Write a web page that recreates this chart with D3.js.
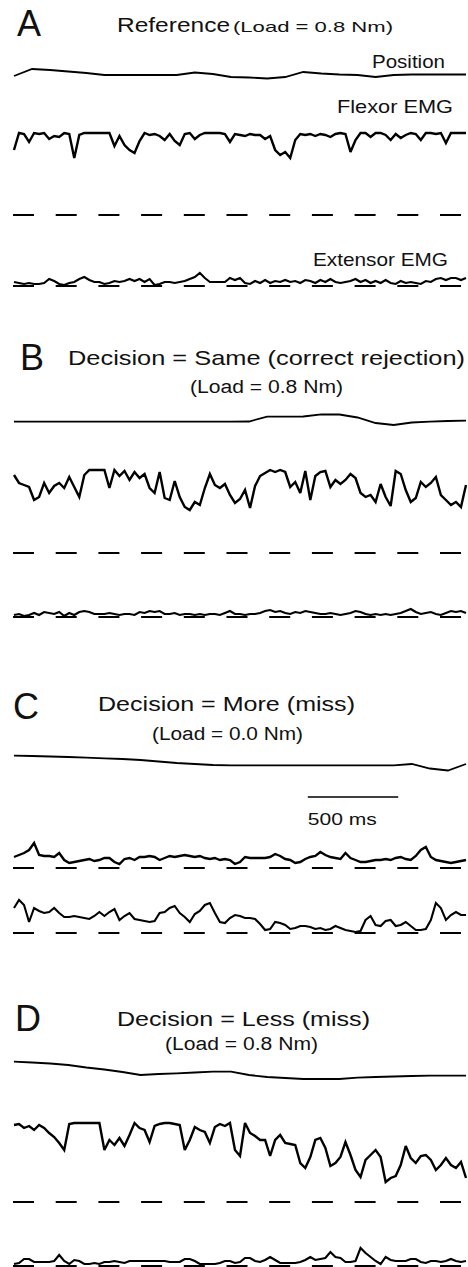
<!DOCTYPE html>
<html>
<head>
<meta charset="utf-8">
<script src="https://cdn.jsdelivr.net/npm/d3@7"></script>
<style>
  body { margin: 0; background: #fff; }
  svg { display: block; background: #fff; }
  .trace { fill: none; stroke: #000; stroke-linejoin: miter; stroke-miterlimit: 3; stroke-linecap: butt; }
  .baseline { stroke: #000; stroke-width: 2.2; stroke-dasharray: 21 21.7; }
  text { font-family: "Liberation Sans", Arial, Helvetica, sans-serif; fill: #111; }
</style>
</head>
<body>
<div id="figure"></div>
<script>

// Sweep length of every trace (ms)
var timeSpanMs = 2500;
var scaleBarMs = 500;

// Panel texts
var panelLetters = ['A', 'B', 'C', 'D'];
var panelTitles = ['Reference', 'Decision = Same (correct rejection)', 'Decision = More (miss)', 'Decision = Less (miss)'];
var panelLoads = ['(Load = 0.8 Nm)', '(Load = 0.8 Nm)', '(Load = 0.0 Nm)', '(Load = 0.8 Nm)'];
var traceLabels = ['Position', 'Flexor EMG', 'Extensor EMG'];

// Position traces (arbitrary units, 100 ms samples)
var posA = [4,11,10,8.5,7,5,5,5,5,5,7.5,6,3,2.5,1.5,3,8,6.5,5.5,5,3,5,5.5,5.5,5.5,5.5];
var posB = [8.3,8.3,8.3,8.3,8.3,8.3,8.3,8.3,8.3,8.3,8.3,8.3,8.3,8.5,13.3,13.3,13.5,15.7,15.5,12.5,7,5,7.5,8.3,9,9.3];
var posC = [19.3,19,18.5,18,17.3,16.7,16,15,13.5,12,11,10,9.7,9.7,9.7,9.7,9.7,9.7,9.7,9.7,9.7,9.7,11,6.5,4.5,11];
var posD = [23.3,22.5,21.5,20,17.5,15.5,13,10,11,11.7,12.5,13.3,13.3,10,8,7,6,6,6,7.3,8,8.5,9,9.3,9.3,9.3];

// Rectified EMG (arbitrary units above zero, ~28 ms samples)
var flexA = [65,82,81,73,82,81,82,76,79,78, 82,81,57,80,82,82,82,82,82,82,
             69,79,70,65,62,74,82,80,81,79, 75,81,74,70,81,82,76,80,82,82,
             82,82,81,73,81,80,79,81,80,80, 76,79,65,60,63,57,75,81,80,81,
             79,81,80,78,81,82,81,63,75,82, 82,78,82,82,80,75,81,77,80,82,
             81,75,82,82,81,82,72,82,82,82, 82];
var extA = [4,3,2,3,2,2,3,7,5,2, 1,3,4,7,9,6,4,4,2,3,
            5,4,5,7,5,7,4,7,1,2, 4,4,3,4,5,7,9,13,8,4,
            4,4,4,8,6,8,3,2,5,3, 6,3,5,4,6,4,5,3,6,5,
            3,6,4,7,4,3,4,5,7,4, 6,3,5,3,6,3,2,5,3,4,
            3,2,5,4,7,8,6,8,8,6, 8];
var flexB = [78,70,68,66,53,56,70,60,67,70, 65,76,66,56,78,83,83,83,83,65,
             83,77,82,73,81,75,79,65,60,81, 55,53,72,56,46,43,51,48,65,79,
             68,65,69,58,50,54,63,45,67,77, 80,83,81,83,81,66,71,60,82,53,
             77,81,82,66,73,69,73,79,75,60, 56,58,51,69,56,47,82,79,63,51,
             55,71,66,70,76,58,53,48,51,46, 68];
var extB = [2,3,1,2,4,2,5,4,3,5, 1,4,2,5,6,5,3,3,3,4,
            3,2,3,3,2,5,4,6,5,6, 3,3,4,2,3,3,2,3,2,3,
            3,2,4,6,3,3,2,3,3,4, 6,7,5,6,4,3,5,4,6,5,
            4,3,3,4,3,2,3,4,6,5, 3,2,3,2,3,2,3,4,6,8,
            5,3,4,5,3,2,4,6,5,6, 4];
var flexC = [11,13,15,18,25,13,12,12,11,15, 8,5,6,7,8,9,7,8,10,10,
             6,4,9,10,8,11,11,12,11,8, 10,12,11,12,13,12,11,12,10,9,
             10,8,9,8,4,6,11,10,10,10, 10,11,14,12,9,8,5,6,9,11,
             12,16,13,11,10,9,15,10,8,6, 6,7,8,8,9,8,10,11,9,8,
             12,18,21,11,8,7,6,5,6,7, 8];
var extC = [25,33,28,11,25,22,20,21,25,20, 16,16,17,16,15,14,17,21,17,21,
            24,13,17,20,14,13,12,11,12,20, 21,25,27,20,16,11,19,22,28,30,
            20,11,10,15,18,17,15,15,14,9, 3,4,11,10,8,4,5,7,7,6,
            4,5,3,4,7,5,3,2,1,2, 13,17,8,7,12,13,7,8,11,7,
            3,3,4,13,30,25,13,18,21,18, 18];
var flexD = [77,78,74,76,72,77,74,69,65,59, 52,78,79,79,79,79,79,79,52,62,
             57,64,56,67,79,74,72,60,76,78, 79,79,78,77,52,62,75,72,70,59,
             75,78,76,79,52,46,79,69,66,62, 62,46,62,67,59,58,57,39,34,45,
             62,64,54,36,39,45,60,47,32,25, 42,47,52,45,20,24,26,37,56,44,
             39,46,47,42,32,37,44,37,34,40, 24];
var extD = [2,3,7,7,4,4,4,4,5,11, 5,2,6,5,2,2,3,2,4,4,
            5,4,3,5,5,5,5,5,5,5, 5,4,4,4,7,7,5,2,2,2,
            2,3,5,5,3,4,8,8,5,4, 6,9,6,3,3,3,3,4,6,9,
            6,7,8,14,9,8,4,4,5,18, 13,9,5,2,9,6,5,5,5,7,
            7,4,3,5,5,4,5,7,5,4, 5];


var width = 468,
    height = 1267;

// Panel layout: zero levels of each trace and where the texts go
var panels = [
    { pos: posA, flex: flexA, ext: extA, posZero: 80, flexZero: 215, extZero: 286,
      letter: [17, 36],
      texts: [
          { t: panelTitles[0], x: 117, y: 32, size: 21, len: 113 },
          { t: panelLoads[0], x: 233, y: 32, size: 15, len: 160 },
          { t: traceLabels[0], x: 372, y: 68, size: 18, len: 73 },
          { t: traceLabels[1], x: 337, y: 113, size: 19, len: 116 },
          { t: traceLabels[2], x: 313, y: 266, size: 19, len: 135 }
      ] },
    { pos: posB, flex: flexB, ext: extB, posZero: 430, flexZero: 553, extZero: 617,
      letter: [20, 370],
      texts: [
          { t: panelTitles[1], x: 68, y: 365, size: 21, len: 397 },
          { t: panelLoads[1], x: 190, y: 393, size: 18, len: 153 }
      ] },
    { pos: posC, flex: flexC, ext: extC, posZero: 775, flexZero: 868, extZero: 933,
      letter: [13, 719],
      texts: [
          { t: panelTitles[2], x: 98, y: 711, size: 21, len: 257 },
          { t: panelLoads[2], x: 152, y: 740, size: 18, len: 151 }
      ] },
    { pos: posD, flex: flexD, ext: extD, posZero: 1085, flexZero: 1202, extZero: 1266,
      letter: [15, 1031],
      texts: [
          { t: panelTitles[3], x: 117, y: 1026, size: 21, len: 253 },
          { t: panelLoads[3], x: 165, y: 1050, size: 18, len: 153 }
      ] }
];

var svg = d3.select('#figure').append('svg')
    .attr('width', width)
    .attr('height', height);

// Shared time axis
var x = d3.scaleLinear().domain([0, timeSpanMs]).range([14, 466]);


function drawTrace(g, values, yScale, strokeWidth) {
    var step = timeSpanMs / (values.length - 1);
    var line = d3.line()
        .x(function(d, i) { return x(i * step); })
        .y(function(d) { return yScale(d); });

    g.append('path')
        .datum(values)
        .attr('class', 'trace')
        .attr('stroke-width', strokeWidth)
        .attr('d', line);
}


function drawBaseline(g, yScale) {
    g.append('line')
        .attr('class', 'baseline')
        .attr('x1', x(0) - 1)
        .attr('x2', x(timeSpanMs))
        .attr('y1', yScale(0))
        .attr('y2', yScale(0));
}


panels.forEach(function(p, k) {
    var g = svg.append('g').attr('class', 'panel panel-' + panelLetters[k]);

    var yPos = d3.scaleLinear().domain([0, 30]).range([p.posZero, p.posZero - 30]),
        yFlex = d3.scaleLinear().domain([0, 100]).range([p.flexZero, p.flexZero - 100]),
        yExt = d3.scaleLinear().domain([0, 100]).range([p.extZero, p.extZero - 100]);

    // zero lines first, traces on top
    drawBaseline(g, yFlex);
    drawBaseline(g, yExt);

    drawTrace(g, p.pos, yPos, 1.8);
    drawTrace(g, p.flex, yFlex, 2.4);
    drawTrace(g, p.ext, yExt, 2.1);

    g.append('text')
        .attr('x', p.letter[0])
        .attr('y', p.letter[1])
        .attr('font-size', 36)
        .text(panelLetters[k]);

    p.texts.forEach(function(d) {
        g.append('text')
            .attr('x', d.x)
            .attr('y', d.y)
            .attr('font-size', d.size)
            .attr('textLength', d.len)
            .attr('lengthAdjust', 'spacingAndGlyphs')
            .text(d.t);
    });
});

// 500 ms calibration bar (panel C)
var barStart = 1625;
svg.append('line')
    .attr('x1', x(barStart))
    .attr('x2', x(barStart + scaleBarMs))
    .attr('y1', 797)
    .attr('y2', 797)
    .attr('stroke', '#000')
    .attr('stroke-width', 1.6);

svg.append('text')
    .attr('x', x(barStart))
    .attr('y', 825)
    .attr('font-size', 16)
    .attr('textLength', 69)
    .attr('lengthAdjust', 'spacingAndGlyphs')
    .text(scaleBarMs + ' ms');

</script>
</body>
</html>
